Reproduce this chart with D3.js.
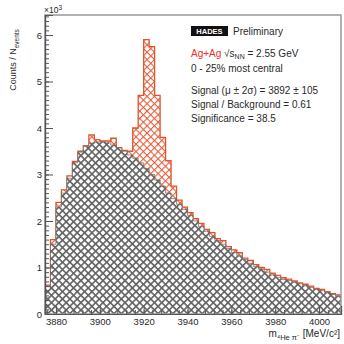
<!DOCTYPE html>
<html>
<head>
<meta charset="utf-8">
<script src="https://cdn.jsdelivr.net/npm/d3@7"></script>
<style>
  body { margin: 0; background: #fff; }
  text { font-family: "Liberation Sans", Arial, sans-serif; fill: #2a2a2a; }
</style>
</head>
<body>
<div id="chart"></div>
<script>
// histogram binning (MeV/c^2)
const binStart = 3875;
const binWidth = 2.5;

// background (gray) counts per bin, x10^3
const background = [
  0.6, 1.5, 2.3, 2.6, 2.92, 3.25, 3.48, 3.6, 3.67, 3.7,
  3.7, 3.68, 3.63, 3.57, 3.5, 3.42, 3.35, 3.25, 3.13, 3.0,
  2.88, 2.75, 2.6, 2.48, 2.36, 2.25, 2.12, 2.0, 1.88, 1.78,
  1.67, 1.58, 1.5, 1.41, 1.32, 1.25, 1.17, 1.09, 1.02, 0.96,
  0.9, 0.84, 0.79, 0.74, 0.72, 0.68, 0.65, 0.61, 0.57, 0.53,
  0.5, 0.46, 0.42, 0.38
];

// signal + background (red) counts per bin, x10^3
const total = [
  0.62, 1.6, 2.4, 2.67, 2.97, 3.28, 3.5, 3.62, 3.85, 3.75,
  3.72, 3.72, 3.78, 3.58, 3.52, 3.5, 4.0, 4.7, 5.9, 5.75,
  4.7, 3.8, 3.3, 2.75, 2.45, 2.3, 2.18, 2.05, 1.95, 1.82,
  1.75, 1.62, 1.58, 1.45, 1.38, 1.32, 1.2, 1.15, 1.06, 1.0,
  0.96, 0.88, 0.83, 0.78, 0.75, 0.71, 0.67, 0.64, 0.6, 0.55,
  0.53, 0.48, 0.44, 0.41
];

const xTicks = [3880, 3900, 3920, 3940, 3960, 3980, 4000];
const yTicks = [0, 1, 2, 3, 4, 5, 6];

const infoLines = [
  "0 - 25% most central",
  "Signal (\u03bc \u00b1 2\u03c3) = 3892 \u00b1 105",
  "Signal / Background = 0.61",
  "Significance = 38.5"
];

const width = 344, height = 344;
const margin = { top: 15, right: 3, bottom: 30, left: 45 };

const svg = d3.select('#chart').append('svg')
  .attr('width', width)
  .attr('height', height);

const binEnd = binStart + binWidth * background.length;

const x = d3.scaleLinear()
  .domain([binStart, 4010])
  .range([margin.left, width - margin.right]);

const y = d3.scaleLinear()
  .domain([0, 6.43])
  .range([height - margin.bottom, margin.top]);

// hatch patterns (cross hatch rotated 45deg)
const defs = svg.append('defs');
function hatch(id, color, w, d) {
  const p = defs.append('pattern')
    .attr('id', id)
    .attr('patternUnits', 'userSpaceOnUse')
    .attr('width', d)
    .attr('height', d)
    .attr('patternTransform', 'rotate(45)');
  p.append('rect').attr('width', d).attr('height', d).attr('fill', '#fff');
  p.append('rect').attr('width', d).attr('height', w).attr('fill', color);
  p.append('rect').attr('width', w).attr('height', d).attr('fill', color);
}
hatch('hatchRed', '#e2603e', 1.1, 5.2);
hatch('hatchGray', '#626262', 1.6, 5.2);

function steps(vals) {
  const pts = vals.map((v, i) => [binStart + i * binWidth, v]);
  pts.push([binEnd, vals[vals.length - 1]]);
  return pts;
}

const area = d3.area()
  .x(d => x(d[0]))
  .y0(y(0))
  .y1(d => y(d[1]))
  .curve(d3.curveStepAfter);

const line = d3.line()
  .x(d => x(d[0]))
  .y(d => y(d[1]))
  .curve(d3.curveStepAfter);

const plot = svg.append('g');
plot.append('clipPath').attr('id', 'clip')
  .append('rect')
  .attr('x', margin.left).attr('y', margin.top)
  .attr('width', width - margin.left - margin.right)
  .attr('height', height - margin.top - margin.bottom);

const inner = plot.append('g').attr('clip-path', 'url(#clip)');

inner.append('path')
  .datum(steps(total))
  .attr('d', area)
  .attr('fill', 'url(#hatchRed)');

inner.append('path')
  .datum([[binStart, 0]].concat(steps(total)))
  .attr('d', line)
  .attr('fill', 'none')
  .attr('stroke', '#e0552f')
  .attr('stroke-width', 1.3);

inner.append('path')
  .datum(steps(background))
  .attr('d', area)
  .attr('fill', 'url(#hatchGray)');

inner.append('path')
  .datum(steps(background))
  .attr('d', line)
  .attr('fill', 'none')
  .attr('stroke', '#666')
  .attr('stroke-width', 0.7);

// frame
svg.append('rect')
  .attr('x', margin.left).attr('y', margin.top)
  .attr('width', width - margin.left - margin.right)
  .attr('height', height - margin.top - margin.bottom)
  .attr('fill', 'none')
  .attr('stroke', '#9a9a9a')
  .attr('stroke-width', 1.5);

// axes
const yMinor = svg.append('g')
  .attr('transform', `translate(${margin.left},0)`)
  .call(d3.axisLeft(y).tickValues(d3.range(0, 6.41, 0.1)).tickSize(-4).tickFormat(''));
const yAxis = svg.append('g')
  .attr('transform', `translate(${margin.left},0)`)
  .call(d3.axisLeft(y).tickValues(yTicks).tickSize(-8).tickPadding(3).tickFormat(d3.format('d')));

const xMinor = svg.append('g')
  .attr('transform', `translate(0,${height - margin.bottom})`)
  .call(d3.axisBottom(x).tickValues(d3.range(3876, 4010, 4)).tickSize(-4).tickFormat(''));
const xAxis = svg.append('g')
  .attr('transform', `translate(0,${height - margin.bottom})`)
  .call(d3.axisBottom(x).tickValues(xTicks).tickSize(-8).tickPadding(4).tickFormat(d3.format('d')));

[yMinor, yAxis, xMinor, xAxis].forEach(g => {
  g.select('.domain').attr('stroke', '#555').attr('stroke-width', 1.2);
  g.selectAll('.tick line').attr('stroke', '#555');
  g.selectAll('.tick text').attr('font-size', 9.5).attr('fill', '#2a2a2a')
    .style('font-family', '"Liberation Sans", Arial, sans-serif');
});

// exponent
const expo = svg.append('text')
  .attr('x', margin.left - 1)
  .attr('y', 13)
  .attr('font-size', 8.5);
expo.append('tspan').text('\u00d710');
expo.append('tspan').attr('dy', -3).attr('font-size', 6.5).text('3');

// y title
const yTitle = svg.append('text')
  .attr('transform', 'translate(16,60) rotate(-90)')
  .attr('text-anchor', 'middle')
  .attr('font-size', 9);
yTitle.append('tspan').text('Counts / N');
yTitle.append('tspan').attr('dy', 2.5).attr('font-size', 6.5).text('events');

// x title
const xTitle = svg.append('text')
  .attr('x', width - 4)
  .attr('y', 337)
  .attr('text-anchor', 'end')
  .attr('font-size', 10);
xTitle.append('tspan').text('m');
xTitle.append('tspan').attr('dy', 2.5).attr('font-size', 7.5).text('\u2074He \u03c0\u207b');
xTitle.append('tspan').attr('dy', -2.5).text('  [MeV/c\u00b2]');

// legend block
const lx = 191;
const fs = 10;
svg.append('rect')
  .attr('x', lx).attr('y', 26)
  .attr('width', 37).attr('height', 10)
  .attr('fill', '#111');
svg.append('text')
  .attr('x', lx + 18.5).attr('y', 34)
  .attr('text-anchor', 'middle')
  .attr('font-size', 7.5)
  .attr('font-weight', 'bold')
  .style('fill', '#fff')
  .text('HADES');
svg.append('text')
  .attr('x', lx + 42).attr('y', 35)
  .attr('font-size', fs)
  .text('Preliminary');

const sys = svg.append('text')
  .attr('x', lx).attr('y', 57)
  .attr('font-size', fs);
sys.append('tspan').style('fill', '#ee2a2a').text('Ag+Ag');
sys.append('tspan').text(' \u221as');
sys.append('tspan').attr('dy', 2).attr('font-size', 7).text('NN');
sys.append('tspan').attr('dy', -2).text(' = 2.55 GeV');

const infoY = [72, 94, 108, 122];
svg.selectAll('text.info')
  .data(infoLines)
  .enter()
  .append('text')
  .attr('class', 'info')
  .attr('x', lx)
  .attr('y', (d, i) => infoY[i])
  .attr('font-size', fs)
  .text(d => d);
</script>
</body>
</html>
